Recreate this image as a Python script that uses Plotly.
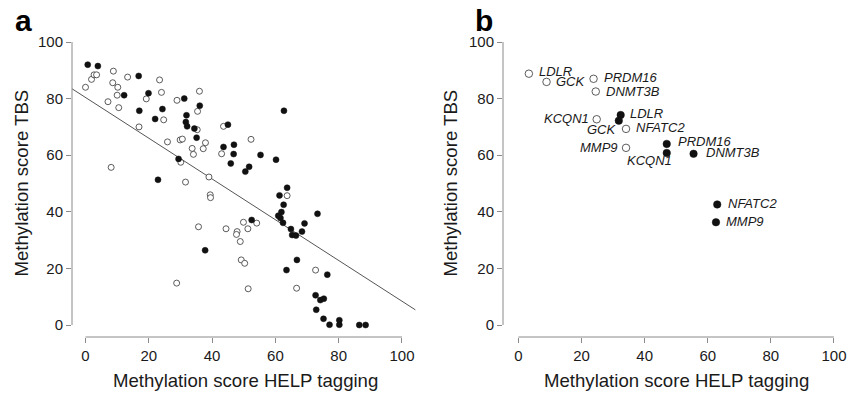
import plotly.graph_objects as go

# ---------------- Panel a data ----------------
a_filled_x = [0.7, 3.9, 16.8, 12.2, 19.9, 17.0, 24.3, 22.0, 31.2, 36.1, 31.9, 31.7, 32.1, 34.4, 35.1,
              45.0, 43.6, 46.9, 46.8, 45.9, 51.7, 50.5, 29.4, 22.9, 55.3, 60.2, 62.7, 52.5, 37.8, 63.7,
              61.3, 62.6, 61.9, 60.9, 61.6, 62.4, 73.3, 69.2, 68.4, 64.9, 65.3, 66.5, 66.8, 63.5, 76.4,
              72.7, 74.2, 75.3, 72.9, 75.2, 77.1, 80.2, 80.2, 86.5, 88.5]
a_filled_y = [92.0, 91.5, 88.0, 81.2, 81.9, 75.7, 76.3, 72.8, 80.0, 77.5, 74.1, 71.7, 70.2, 69.4, 66.2,
              70.8, 62.9, 63.7, 60.4, 57.1, 55.9, 54.2, 58.7, 51.3, 60.1, 58.4, 75.7, 37.1, 26.4, 48.5,
              45.8, 42.5, 39.9, 38.6, 37.8, 36.1, 39.3, 35.9, 33.0, 33.9, 31.8, 31.6, 23.0, 19.4, 17.8,
              10.5, 8.8, 9.3, 5.4, 2.2, 0.1, 1.7, 0.1, 0.0, 0.0]
a_open_x = [0.0, 1.9, 2.7, 3.5, 8.8, 8.6, 10.2, 10.0, 7.1, 10.5, 13.3, 23.4, 24.0, 19.2, 28.9, 36.0,
            35.4, 24.7, 16.9, 35.3, 25.9, 29.9, 30.6, 37.9, 33.7, 37.2, 34.1, 43.6, 52.3, 43.0, 8.1,
            30.1, 39.0, 31.6, 39.4, 39.5, 54.1, 49.9, 51.3, 47.9, 47.7, 48.9, 44.4, 35.7, 49.2, 50.3,
            28.8, 51.4, 63.7, 72.7, 66.7]
a_open_y = [84.0, 86.8, 88.4, 88.4, 89.7, 85.6, 84.0, 81.2, 78.9, 76.8, 87.6, 86.6, 82.2, 79.9, 79.4, 82.6,
            75.5, 72.5, 70.0, 69.0, 64.7, 65.4, 65.7, 64.4, 62.4, 62.3, 60.3, 70.2, 65.6, 60.5, 55.7,
            57.5, 52.3, 50.5, 46.0, 45.0, 36.0, 36.3, 34.0, 33.0, 32.0, 29.5, 34.0, 34.7, 23.0, 21.8,
            14.8, 12.8, 45.7, 19.4, 13.0]
fit_intercept = 80.4
fit_slope = -0.72

# ---------------- Panel b data ----------------
b_genes = ["LDLR", "GCK", "PRDM16", "DNMT3B", "KCQN1", "NFATC2", "MMP9"]
b_open_x = [3.3, 8.9, 23.8, 24.5, 24.8, 34.1, 34.1]
b_open_y = [88.8, 85.9, 87.0, 82.5, 72.7, 69.3, 62.6]
b_filled_x = [32.4, 31.8, 47.0, 55.5, 47.0, 63.0, 62.6]
b_filled_y = [74.2, 72.2, 64.0, 60.5, 60.8, 42.6, 36.3]

tick_vals = [0, 20, 40, 60, 80, 100]
x_title = "Methylation score HELP tagging"
y_title = "Methylation score TBS"

# the page body adds an 8 px margin; layout pixel targets below are page pixels
OFF = 8
W, H = 860 - OFF, 394 - OFF
TOP, BOT = 30 - OFF, 337 - OFF
PH = BOT - TOP
GRAY = "#8a8a8a"
TXT = "#1a1a1a"
FONT = "Liberation Sans, Arial, sans-serif"


def px(p):  # page pixel x -> paper x
    return (p - OFF) / W


def py(p):  # page pixel y -> paper y
    return (BOT - (p - OFF)) / PH


fig = go.Figure()

# panel a
xa0, xa1 = -4.27, 104.3
fig.add_trace(go.Scatter(x=[xa0, xa1], y=[fit_intercept + fit_slope * xa0, fit_intercept + fit_slope * xa1],
                         mode="lines", line=dict(color="#555555", width=1), xaxis="x", yaxis="y",
                         hoverinfo="skip"))
fig.add_trace(go.Scatter(x=a_open_x, y=a_open_y, mode="markers", xaxis="x", yaxis="y",
                         marker=dict(size=6, color="white", line=dict(color="#333333", width=0.8))))
fig.add_trace(go.Scatter(x=a_filled_x, y=a_filled_y, mode="markers", xaxis="x", yaxis="y",
                         marker=dict(size=6, color="#111111", line=dict(color="#111111", width=0.5))))

# panel b
fig.add_trace(go.Scatter(x=b_open_x, y=b_open_y, mode="markers", xaxis="x2", yaxis="y2",
                         marker=dict(size=7.5, color="white", line=dict(color="#333333", width=0.8))))
fig.add_trace(go.Scatter(x=b_filled_x, y=b_filled_y, mode="markers", xaxis="x2", yaxis="y2",
                         marker=dict(size=7.5, color="#111111", line=dict(color="#111111", width=0.5))))

axis_common = dict(showgrid=False, zeroline=False, showline=False, ticks="outside", ticklen=5,
                   tickwidth=1, tickcolor=GRAY, tickvals=tick_vals,
                   tickfont=dict(family=FONT, size=15, color=TXT))

fig.update_layout(
    width=W, height=H, showlegend=False,
    paper_bgcolor="white", plot_bgcolor="white",
    margin=dict(l=0, r=0, t=TOP, b=H - BOT),
    xaxis=dict(domain=[px(72), px(415.6)], range=[xa0, xa1], anchor="y", **axis_common),
    yaxis=dict(domain=[0, 1], range=[-4.24, 104.24], anchor="x", **axis_common),
    xaxis2=dict(domain=[px(503), px(845)], range=[-4.9, 103.5], anchor="y2", **axis_common),
    yaxis2=dict(domain=[0, 1], range=[-4.24, 104.24], anchor="x2", **axis_common),
)

# axis lines (R-style, detached)
for xr, yr in (("x", "y"), ("x2", "y2")):
    fig.add_shape(type="line", xref=f"{xr} domain", yref=yr, x0=0, x1=0, y0=0, y1=100,
                  line=dict(color=GRAY, width=1))
    fig.add_shape(type="line", xref=xr, yref=f"{yr} domain", x0=0, x1=100, y0=0, y1=0,
                  line=dict(color=GRAY, width=1))

ann = []
# axis titles
for cx, ycx in ((246, 21), (676, 450)):
    ann.append(dict(x=px(cx), y=py(380), xref="paper", yref="paper", text=x_title, showarrow=False,
                    xanchor="center", yanchor="middle", font=dict(family=FONT, size=18.6, color=TXT)))
    ann.append(dict(x=px(ycx), y=py(183.5), xref="paper", yref="paper", text=y_title, showarrow=False,
                    textangle=-90, xanchor="center", yanchor="middle",
                    font=dict(family=FONT, size=18.6, color=TXT)))
# panel letters
for letter, cx in (("a", 23), ("b", 484)):
    ann.append(dict(x=px(cx), y=py(21), xref="paper", yref="paper", text=f"<b>{letter}</b>",
                    showarrow=False, xanchor="center", yanchor="middle",
                    font=dict(family=FONT, size=30, color="#000000")))

# gene labels: (anchor, xshift, yshift)
open_pos = {"LDLR": ("left", 8, 2), "GCK": ("left", 7, 0), "PRDM16": ("left", 8, 1),
            "DNMT3B": ("left", 8, 0), "KCQN1": ("right", -6, 1), "NFATC2": ("left", 8, 1),
            "MMP9": ("right", -6, 0)}
filled_pos = {"LDLR": ("left", 7, 2), "GCK": ("right", 0, -9), "PRDM16": ("left", 9, 2),
              "DNMT3B": ("left", 10, 1), "KCQN1": ("center", -17, -8), "NFATC2": ("left", 9, 1),
              "MMP9": ("left", 8, 1)}
for xs, ys, pos in ((b_open_x, b_open_y, open_pos), (b_filled_x, b_filled_y, filled_pos)):
    for g, xv, yv in zip(b_genes, xs, ys):
        anc, dx, dy = pos[g]
        ann.append(dict(x=xv, y=yv, xref="x2", yref="y2", text=f"<i>{g}</i>", showarrow=False,
                        xanchor=anc, yanchor="middle", xshift=dx, yshift=dy,
                        font=dict(family=FONT, size=13, color=TXT)))

fig.update_layout(annotations=ann)
fig.write_html("out.html")
